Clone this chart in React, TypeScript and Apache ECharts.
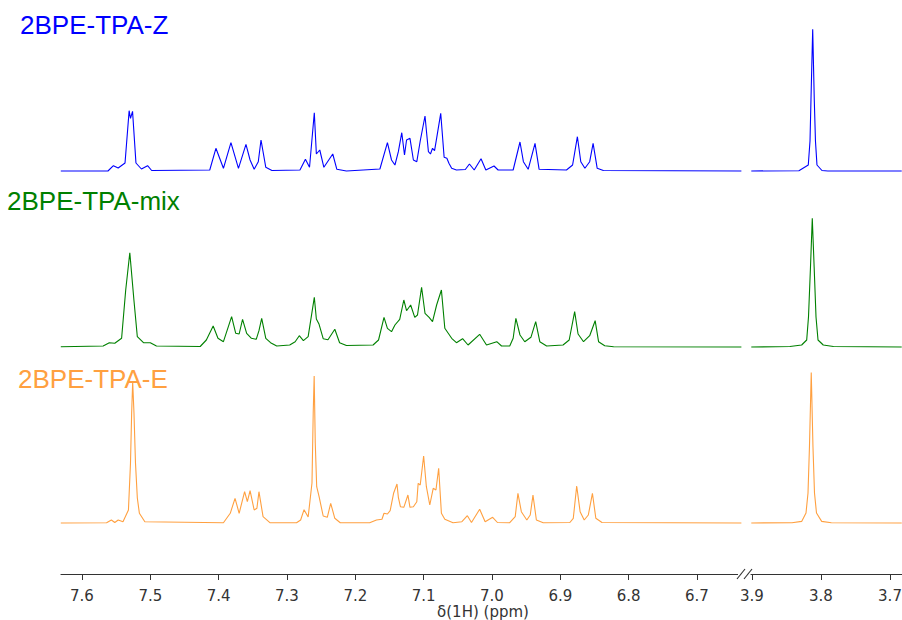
import React, { useEffect, useRef } from "react";
import * as echarts from "echarts";

// ---- data: [ppm, intensity above own baseline] ----
const zAromatic: [number, number][] = [
  [7.631, 0], [7.562, 0], [7.554, 5.3], [7.547, 3], [7.537, 8], [7.531, 60.3], [7.529, 52.7], [7.526, 59.7],
  [7.521, 8], [7.513, 2], [7.504, 5.3], [7.498, 0.5], [7.413, 1], [7.404, 22.7], [7.393, 2.7], [7.382, 28.3],
  [7.371, 2.7], [7.36, 26.7], [7.354, 11], [7.348, 1.7], [7.342, 9.3], [7.338, 31], [7.331, 3.7], [7.322, 0.5],
  [7.281, 1], [7.273, 11.7], [7.267, 3.7], [7.26, 58.3], [7.257, 17], [7.252, 21], [7.246, 3.7], [7.233, 17],
  [7.227, 1.7], [7.213, 0], [7.164, 2], [7.153, 28.3], [7.147, 11], [7.142, 6], [7.137, 19.3], [7.132, 38.3],
  [7.128, 16], [7.125, 31], [7.12, 32.7], [7.115, 11], [7.11, 9.3], [7.105, 30], [7.098, 55], [7.093, 19.3],
  [7.09, 17], [7.087, 22.7], [7.084, 20.3], [7.081, 32.7], [7.075, 57.7], [7.07, 13.7], [7.066, 12.7],
  [7.063, 7.7], [7.059, 2.7], [7.052, 1], [7.039, 1.5], [7.033, 7], [7.026, 1], [7.016, 12.3], [7.009, 1],
  [6.997, 5], [6.991, 1], [6.969, 1], [6.959, 29], [6.954, 9.3], [6.947, 1.7], [6.937, 27.7], [6.931, 1.7],
  [6.891, 1], [6.882, 6], [6.875, 34.3], [6.87, 9.3], [6.864, 2.7], [6.857, 9.3], [6.852, 27.7], [6.846, 2.7],
  [6.837, 0.5], [6.635, 0],
];
const zMethoxy: [number, number][] = [
  [3.901, 0], [3.832, 0.3], [3.8184, 6], [3.8159, 30], [3.8145, 71], [3.812, 141.7], [3.8097, 71], [3.808, 30],
  [3.8058, 6], [3.7986, 0.5], [3.79, 0], [3.683, 0],
];

const mixAromatic: [number, number][] = [
  [7.631, 0.3], [7.569, 1], [7.56, 4.3], [7.552, 3.7], [7.542, 8.7], [7.536, 57], [7.53, 94.3], [7.524, 47],
  [7.519, 10.3], [7.51, 4.3], [7.5, 4.3], [7.491, 1], [7.427, 0.5], [7.418, 7], [7.408, 21], [7.401, 8.7],
  [7.393, 5.3], [7.381, 30.3], [7.375, 13.7], [7.37, 13], [7.365, 27.7], [7.359, 13.7], [7.352, 8.7],
  [7.345, 7.7], [7.341, 16.3], [7.337, 28.7], [7.331, 8.7], [7.324, 4.3], [7.315, 1], [7.296, 2], [7.288, 5.3],
  [7.282, 11.3], [7.276, 6.3], [7.269, 10.3], [7.26, 49.7], [7.257, 28], [7.253, 22.7], [7.247, 8.3],
  [7.24, 7.3], [7.23, 17.7], [7.223, 4.3], [7.213, 1.5], [7.174, 2], [7.166, 7], [7.158, 29.7], [7.153, 18.7],
  [7.147, 15.3], [7.142, 22], [7.135, 27.7], [7.129, 47], [7.125, 36.3], [7.119, 42], [7.113, 29.7],
  [7.109, 32], [7.103, 59.7], [7.098, 33.7], [7.092, 29.7], [7.087, 25.3], [7.081, 42], [7.074, 57],
  [7.069, 18.7], [7.064, 13.7], [7.059, 8.7], [7.052, 4.3], [7.043, 8.3], [7.035, 2], [7.018, 12.7],
  [7.008, 2], [6.993, 5.3], [6.986, 1], [6.974, 1], [6.969, 8.7], [6.965, 28.7], [6.959, 12], [6.952, 5.3],
  [6.943, 9.7], [6.936, 25.3], [6.93, 5.3], [6.92, 1], [6.896, 2], [6.887, 7], [6.879, 35.3], [6.874, 13],
  [6.866, 5.3], [6.857, 11.3], [6.849, 26.3], [6.844, 5.3], [6.835, 1.3], [6.822, 0.3], [6.635, 0],
];
const mixMethoxy: [number, number][] = [
  [3.901, 0], [3.845, 0.5], [3.828, 2], [3.8207, 7], [3.8181, 30], [3.8152, 80], [3.8126, 128.7], [3.8099, 80],
  [3.8072, 30], [3.8043, 7], [3.7967, 2], [3.782, 0.5], [3.683, 0],
];

const eAromatic: [number, number][] = [
  [7.631, 0], [7.564, 0.3], [7.557, 3], [7.552, 0.5], [7.547, 3], [7.54, 1.3], [7.532, 13], [7.529, 60],
  [7.5273, 110], [7.5258, 141], [7.5239, 110], [7.5217, 60], [7.519, 25], [7.516, 9.7], [7.508, 1.3],
  [7.393, 0.3], [7.383, 9.7], [7.376, 24.7], [7.37, 9.7], [7.362, 31.3], [7.358, 21.3], [7.354, 32.3],
  [7.348, 13], [7.344, 14.7], [7.341, 31.3], [7.335, 6.3], [7.325, 0.3], [7.286, 0.3], [7.28, 3],
  [7.275, 13.3], [7.269, 6], [7.2634, 40], [7.2616, 110], [7.2602, 147], [7.2586, 80], [7.2565, 36.3],
  [7.253, 26.3], [7.247, 7], [7.241, 5.7], [7.236, 19.7], [7.23, 4.7], [7.222, 0.3], [7.179, 0.3], [7.169, 3],
  [7.161, 3.7], [7.158, 9.7], [7.153, 9], [7.149, 12.3], [7.144, 29.7], [7.139, 39], [7.137, 25.7],
  [7.134, 16.3], [7.129, 15.7], [7.123, 28], [7.12, 15.7], [7.115, 16.3], [7.11, 21.3], [7.108, 39.7],
  [7.105, 38], [7.1, 67], [7.096, 36.3], [7.091, 18], [7.086, 34.7], [7.082, 33], [7.078, 54.7], [7.074, 9.7],
  [7.069, 3.7], [7.057, 0.3], [7.044, 1.3], [7.036, 7.3], [7.03, 0.5], [7.018, 13.7], [7.01, 1.3],
  [6.999, 5.7], [6.992, 0.5], [6.974, 0.3], [6.966, 6.3], [6.962, 29.7], [6.957, 11.3], [6.949, 3], [6.944, 8],
  [6.94, 28], [6.935, 3], [6.925, 0.3], [6.886, 0.5], [6.881, 4.7], [6.876, 37], [6.871, 11.3], [6.865, 3],
  [6.859, 8], [6.853, 29.7], [6.848, 4.7], [6.839, 0.5], [6.635, 0],
];
const eMethoxy: [number, number][] = [
  [3.901, 0], [3.842, 0.3], [3.828, 1.6], [3.8217, 10], [3.8188, 30], [3.8167, 76], [3.8141, 150.6],
  [3.8116, 76], [3.8094, 30], [3.8065, 10], [3.799, 1.6], [3.785, 0.3], [3.683, 0],
];

const sampleNames = ["2BPE-TPA-Z", "2BPE-TPA-mix", "2BPE-TPA-E"];
const majorTicksLeft = [7.6, 7.5, 7.4, 7.3, 7.2, 7.1, 7.0, 6.9, 6.8, 6.7];
const minorTicksLeft = [7.55, 7.45, 7.35, 7.25, 7.15, 7.05, 6.95, 6.85, 6.75, 6.65];
const majorTicksRight = [3.9, 3.8, 3.7];
const minorTicksRight = [3.85, 3.75];
const axisTitle = "δ(1H) (ppm)";

// ---- layout / style ----
const COLORS = ["#0000ff", "#008000", "#ffa040"];
const BASE_OFFSETS = [403, 227, 51]; // vertical stacking of the three spectra
const TITLE_POS = [
  [20, 24.5],
  [7, 201],
  [18, 378.5],
];
const LEFT_RANGE = [6.6341, 7.6307];
const RIGHT_RANGE = [3.6826, 3.9014];

export default function App() {
  const ref = useRef<HTMLDivElement>(null);
  useEffect(() => {
    if (!ref.current) return;
    const chart = echarts.init(ref.current, undefined, { renderer: "svg" });
    const traces = [
      [zAromatic, zMethoxy],
      [mixAromatic, mixMethoxy],
      [eAromatic, eMethoxy],
    ];
    const series: any[] = [];
    traces.forEach((pair, i) => {
      pair.forEach((arr, part) => {
        series.push({
          type: "line",
          xAxisIndex: part,
          yAxisIndex: part,
          data: arr.map(([x, h]) => [x, h + BASE_OFFSETS[i]]),
          showSymbol: false,
          symbol: "none",
          clip: true,
          lineStyle: { color: COLORS[i], width: 1.1 },
          z: 3,
        });
      });
    });
    const labelStyle = {
      color: "#333",
      fontFamily: "DejaVu Sans",
      fontSize: 15,
      margin: 14,
      formatter: (v: number) => v.toFixed(1),
    };
    const mkMajor = (gi: number, range: number[], ticks: number[]) => ({
      type: "value",
      gridIndex: gi,
      min: range[0],
      max: range[1],
      inverse: true,
      splitLine: { show: false },
      axisLine: { show: true, onZero: false, lineStyle: { color: "#333", width: 1.2 } },
      axisTick: { show: true, customValues: ticks, length: 6, lineStyle: { color: "#333" } },
      axisLabel: { ...labelStyle, customValues: ticks },
    });
    const mkMinor = (gi: number, range: number[], ticks: number[]) => ({
      type: "value",
      gridIndex: gi,
      min: range[0],
      max: range[1],
      inverse: true,
      splitLine: { show: false },
      axisLine: { show: false, onZero: false },
      axisTick: { show: true, customValues: ticks, length: 3, lineStyle: { color: "#333" } },
      axisLabel: { show: false },
    });
    chart.setOption({
      animation: false,
      backgroundColor: "#fff",
      grid: [
        { left: 61, top: 0, width: 681, height: 574, containLabel: false, outerBoundsMode: "none" },
        { left: 751, top: 0, width: 151, height: 574, containLabel: false, outerBoundsMode: "none" },
      ],
      xAxis: [
        mkMajor(0, LEFT_RANGE, majorTicksLeft),
        mkMajor(1, RIGHT_RANGE, majorTicksRight),
        mkMinor(0, LEFT_RANGE, minorTicksLeft),
        mkMinor(1, RIGHT_RANGE, minorTicksRight),
      ],
      yAxis: [
        { type: "value", gridIndex: 0, min: 0, max: 574, show: false },
        { type: "value", gridIndex: 1, min: 0, max: 574, show: false },
      ],
      series,
      graphic: [
        ...sampleNames.map((name, i) => ({
          type: "text",
          x: TITLE_POS[i][0],
          y: TITLE_POS[i][1],
          z: 10,
          style: {
            text: name,
            fill: COLORS[i],
            font: '26px "Liberation Sans", Arial, sans-serif',
            textAlign: "left",
            textVerticalAlign: "middle",
          },
        })),
        {
          type: "text",
          x: 483,
          y: 612,
          style: {
            text: axisTitle,
            fill: "#333",
            font: '15px "DejaVu Sans", sans-serif',
            textAlign: "center",
            textVerticalAlign: "middle",
          },
        },
        {
          type: "rect",
          shape: { x: 738, y: 570, width: 12, height: 8 },
          style: { fill: "#fff" },
          z: 5,
        },
        {
          type: "line",
          shape: { x1: 737, y1: 579, x2: 745, y2: 569 },
          style: { stroke: "#333", lineWidth: 1.2 },
          z: 6,
        },
        {
          type: "line",
          shape: { x1: 744, y1: 579, x2: 752, y2: 569 },
          style: { stroke: "#333", lineWidth: 1.2 },
          z: 6,
        },
      ],
    });
    return () => chart.dispose();
  }, []);
  return (
    <div
      ref={ref}
      style={{ position: "absolute", left: 0, top: 0, width: 902, height: 620 }}
    />
  );
}
